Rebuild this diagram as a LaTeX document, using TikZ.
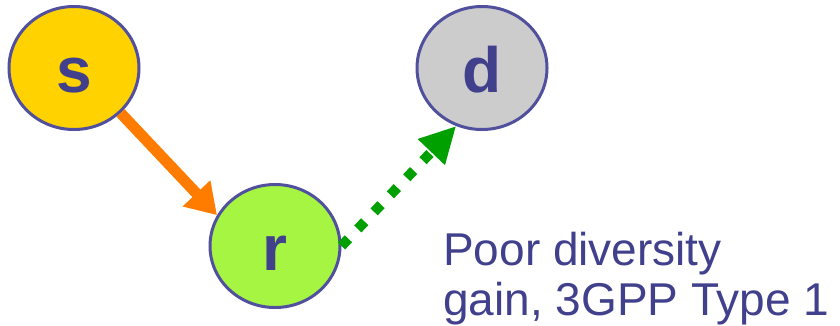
\documentclass[tikz,border=0pt]{standalone}
\usepackage{fontspec}
\setmainfont{Liberation Sans}
\usetikzlibrary{shapes.geometric,arrows.meta}
\definecolor{bordc}{RGB}{80,80,158}
\definecolor{txtc}{RGB}{64,64,140}
\definecolor{sfill}{RGB}{255,210,0}
\definecolor{rfill}{RGB}{166,245,66}
\definecolor{dfill}{RGB}{204,204,204}
\definecolor{orangec}{RGB}{255,124,0}
\definecolor{greenc}{RGB}{0,160,0}
\tikzset{
  station/.style={ellipse, draw=bordc, line width=3pt, minimum width=130pt, minimum height=123pt, inner sep=0pt,
    text=txtc, text height=48pt, text depth=0pt, font=\fontsize{64}{70}\selectfont\bfseries},
  srlink/.style={draw=orangec, line width=11pt, -{Triangle[length=30pt,width=36pt]}},
  rdlink/.style={draw=greenc, line width=10pt, dash pattern=on 10pt off 13.6pt, -{Triangle[length=36pt,width=35pt]}},
  note/.style={text=txtc, font=\fontsize{46}{50}\selectfont, align=left, inner sep=0pt, anchor=base west}
}
\begin{document}
\begin{tikzpicture}[x=1pt,y=-1pt]
\useasboundingbox (0,0) rectangle (840,325);
\node[station, fill=sfill] (s) at (74,68) {s};
\node[station, fill=rfill] (r) at (275,246) {r};
\node[station, fill=dfill] (d) at (482,68) {d};
\draw[srlink] (s.-44) -- (r.152);
\draw[rdlink] (r.east) -- (d.246);
\node[note] (t) at (443,315) {Poor diversity\\gain, 3GPP Type 1};
\end{tikzpicture}
\end{document}
